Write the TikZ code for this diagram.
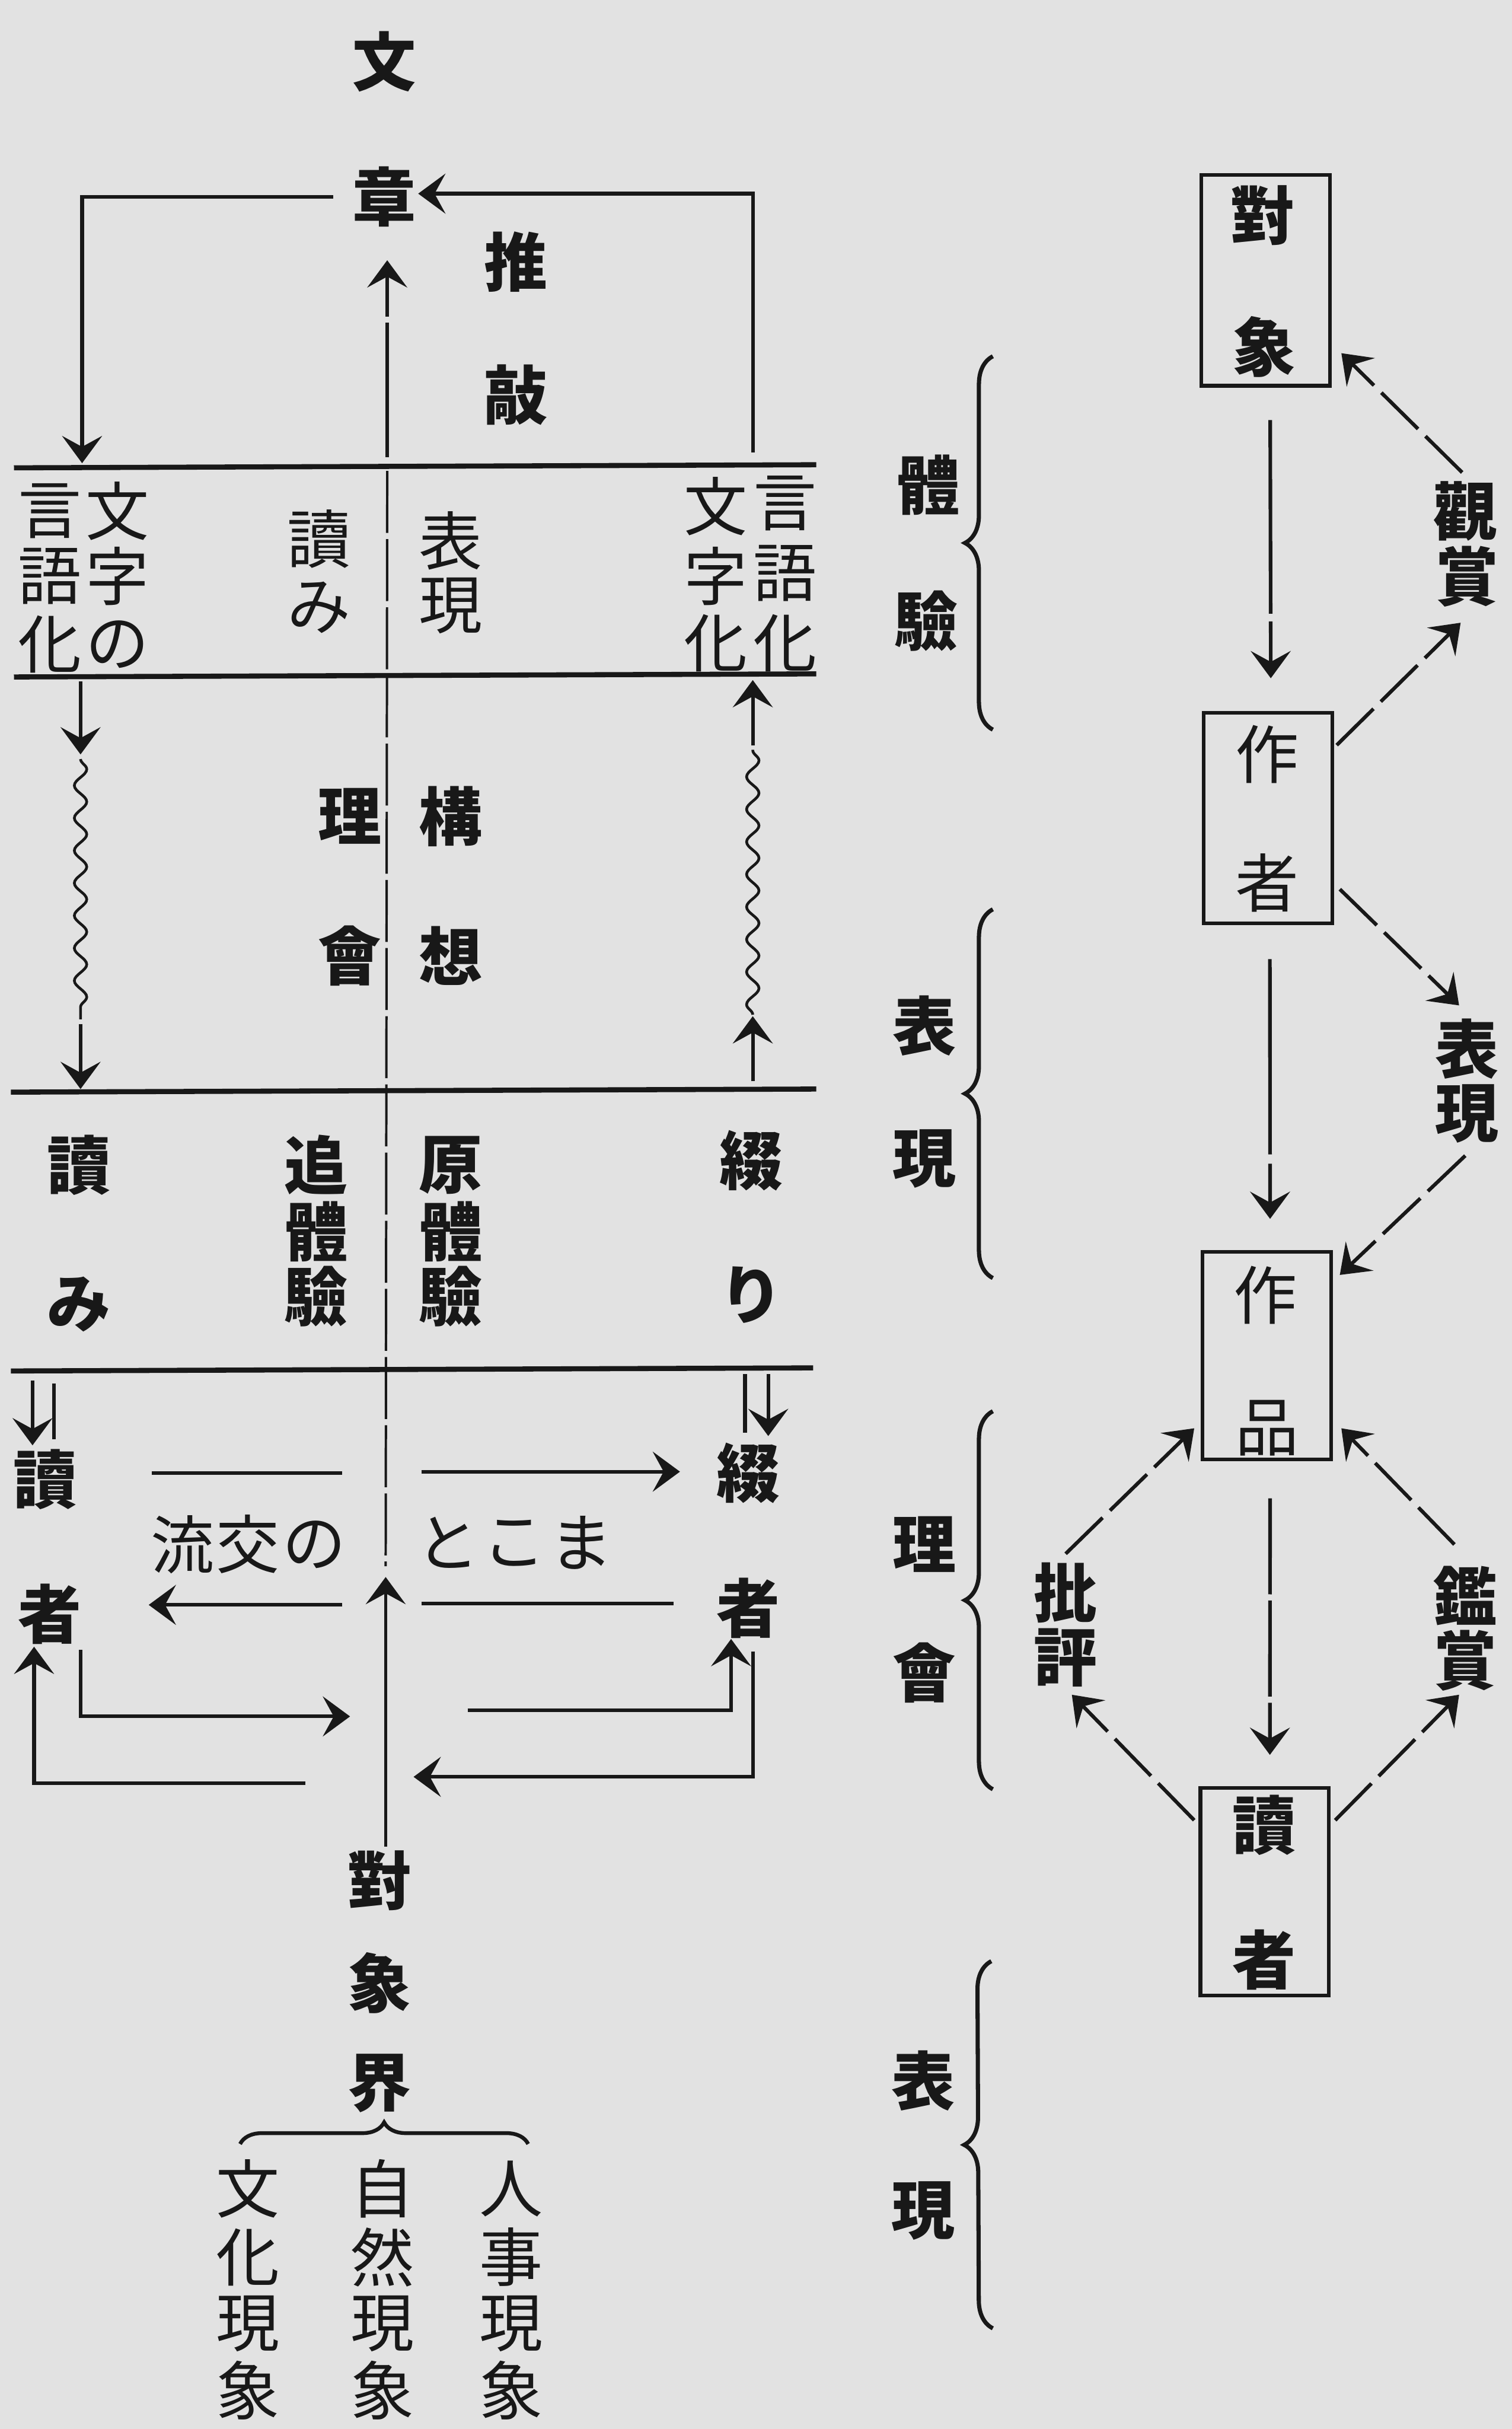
\documentclass[tikz,border=0pt]{standalone}
\usepackage{fontspec}
\newfontfamily\cjk{Noto Sans CJK JP}
\usetikzlibrary{arrows.meta,decorations.pathmorphing,decorations.pathreplacing}
\definecolor{paper}{RGB}{226,226,226}
\definecolor{ink}{RGB}{24,24,24}
\newcommand\kc[4]{\node[kc] (#1) at (#2,#3) {#4};}
\newcommand\kb[4]{\node[kcb] (#1) at (#2,#3) {#4};}
\begin{document}
\begin{tikzpicture}[x=0.03cm,y=-0.03cm,
  kc/.style={inner sep=0pt, font=\cjk\fontsize{35pt}{35pt}\selectfont, text=ink},
  kcb/.style={inner sep=0pt, font=\cjk\bfseries\fontsize{35pt}{35pt}\selectfont, text=ink},
  rule/.style={line width=2.8pt, draw=ink},
  ln/.style={line width=2pt, draw=ink},
  arr/.style={line width=2pt, draw=ink, -{Stealth[length=15pt,width=22pt,inset=6pt]}},
  cline/.style={line width=1.3pt, draw=ink, dash pattern=on 1.2cm off 0.12cm},
  wave/.style={line width=1.5pt, draw=ink, decorate, decoration={snake, segment length=0.63cm, amplitude=0.12cm}},
  dsh/.style={dash pattern=on 1.0cm off 0.2cm},
  box/.style={draw=ink, line width=2pt, inner sep=0pt, minimum width=2.49cm},
  brc/.style={draw=ink, line width=2.3pt, decorate, decoration={brace, amplitude=0.54cm}},
  hbrc/.style={draw=ink, line width=2.1pt, decorate, decoration={brace, amplitude=0.42cm}},
]
\fill[paper] (0,0) rectangle (976,1568);
\useasboundingbox (0,0) rectangle (976,1568);

% ---------------- left diagram: texts ----------------
\kb{wen}{248}{40}{文}
\kb{zhang}{248}{127}{章}
\kb{tui}{333}{169}{推}
\kb{qiao}{333}{255}{敲}

\kc{a1}{32}{330}{言} \kc{a2}{32}{372}{語} \kc{a3}{32}{416}{化}
\kc{b1}{76}{330}{文} \kc{b2}{76}{372}{字} \kc{b3}{76}{416}{の}
\kc{c1}{206}{348}{讀} \kc{c2}{206}{392}{み}
\kc{d1}{291}{349}{表} \kc{d2}{291}{391}{現}
\kc{e1}{462}{327}{文} \kc{e2}{462}{372}{字} \kc{e3}{462}{415}{化}
\kc{f1}{507}{325}{言} \kc{f2}{507}{370}{語} \kc{f3}{507}{415}{化}

\kb{g1}{226}{527}{理} \kb{g2}{226}{617}{會}
\kb{h1}{291}{527}{構} \kb{h2}{291}{617}{想}

\kb{i1}{51}{752}{讀} \kb{i2}{51}{842}{み}
\kb{j1}{204}{752}{追} \kb{j2}{204}{795}{體} \kb{j3}{204}{837}{驗}
\kb{k1}{291}{752}{原} \kb{k2}{291}{795}{體} \kb{k3}{291}{837}{驗}
\kb{l1}{485}{749}{綴} \kb{l2}{485}{836}{り}

\kb{rd1}{29}{955}{讀} \kb{rd2}{32}{1042}{者}
\kb{wr1}{483}{951}{綴} \kb{wr2}{483}{1038}{者}
\kc{m1}{118}{997}{流} \kc{m2}{160}{997}{交} \kc{m3}{203}{997}{の}
\kc{n1}{289}{996}{と} \kc{n2}{332}{996}{こ} \kc{n3}{375}{996}{ま}

\kb{o1}{245}{1214}{對} \kb{o2}{245}{1280}{象} \kb{o3}{245}{1345}{界}
\kc{p1}{160}{1413}{文} \kc{p2}{160}{1457}{化} \kc{p3}{160}{1500}{現} \kc{p4}{160}{1543}{象}
\kc{q1}{247}{1413}{自} \kc{q2}{247}{1457}{然} \kc{q3}{247}{1500}{現} \kc{q4}{247}{1543}{象}
\kc{r1}{330}{1413}{人} \kc{r2}{330}{1457}{事} \kc{r3}{330}{1500}{現} \kc{r4}{330}{1543}{象}

% ---------------- left diagram: rules ----------------
\coordinate (L1a) at (9,302);   \coordinate (L1b) at (527,300);
\coordinate (L2a) at (9,437);   \coordinate (L2b) at (527,435);
\coordinate (L3a) at (7,705);   \coordinate (L3b) at (527,703);
\coordinate (L4a) at (7,885);   \coordinate (L4b) at (525,883);
\draw[rule] (L1a) -- (L1b);
\draw[rule] (L2a) -- (L2b);
\draw[rule] (L3a) -- (L3b);
\draw[rule] (L4a) -- (L4b);

% centre line
\coordinate (C0) at (250,304); \coordinate (C1) at (249,1011);
\draw[cline] (C0) -- (C1);

% top loop
\coordinate (T1) at (215,127); \coordinate (T2) at (53,127); \coordinate (T3) at (53,299);
\draw[arr] (T1) -- (T2) -- (T3);
\coordinate (T4) at (486,292); \coordinate (T5) at (486,125); \coordinate (T6) at (270,125);
\draw[arr] (T4) -- (T5) -- (T6);
\coordinate (T7) at (250,295); \coordinate (T8) at (250,168);
\draw[arr, dash pattern=on 2.6cm off 0.12cm] (T7) -- (T8);

% zone 2 arrows and wavy lines
\coordinate (W1) at (52,440); \coordinate (W2) at (52,487);
\coordinate (W3) at (52,490); \coordinate (W4) at (52,658);
\coordinate (W5) at (52,661); \coordinate (W6) at (52,703);
\draw[arr] (W1) -- (W2);
\draw[wave] (W3) -- (W4);
\draw[arr] (W5) -- (W6);
\coordinate (V1) at (486,481); \coordinate (V2) at (486,439);
\coordinate (V3) at (486,655); \coordinate (V4) at (486,484);
\coordinate (V5) at (486,698); \coordinate (V6) at (486,656);
\draw[arr] (V1) -- (V2);
\draw[wave] (V3) -- (V4);
\draw[arr] (V5) -- (V6);

% zone 4
\coordinate (D1) at (21,891); \coordinate (D2) at (21,933);
\coordinate (D3) at (35,893); \coordinate (D4) at (35,929);
\draw[arr] (D1) -- (D2);
\draw[ln] (D3) -- (D4);
\coordinate (E1) at (481,887); \coordinate (E2) at (481,925);
\coordinate (E3) at (496,887); \coordinate (E4) at (496,927);
\draw[ln] (E1) -- (E2);
\draw[arr] (E3) -- (E4);

\coordinate (H1) at (98,951);  \coordinate (H2) at (221,951);
\coordinate (H3) at (272,950); \coordinate (H4) at (439,950);
\draw[ln] (H1) -- (H2);
\draw[arr] (H3) -- (H4);
\coordinate (H5) at (221,1036); \coordinate (H6) at (96,1036);
\coordinate (H7) at (272,1035); \coordinate (H8) at (435,1035);
\draw[arr] (H5) -- (H6);
\draw[ln] (H7) -- (H8);

\coordinate (P1) at (52,1065); \coordinate (P2) at (52,1108); \coordinate (P3) at (226,1108);
\draw[arr] (P1) -- (P2) -- (P3);
\coordinate (Q1) at (197,1151); \coordinate (Q2) at (22,1151); \coordinate (Q3) at (22,1063);
\draw[arr] (Q1) -- (Q2) -- (Q3);
\coordinate (R1) at (302,1104); \coordinate (R2) at (472,1104); \coordinate (R3) at (472,1058);
\draw[arr] (R1) -- (R2) -- (R3);
\coordinate (S1) at (486,1066); \coordinate (S2) at (486,1147); \coordinate (S3) at (267,1147);
\draw[arr] (S1) -- (S2) -- (S3);

\coordinate (U1) at (249,1192); \coordinate (U2) at (249,1018);
\draw[arr, line width=1.6pt] (U1) -- (U2);

% brace under 界
\coordinate (BR1) at (155,1384); \coordinate (BR2) at (341,1384);
\draw[hbrc] (BR1) -- (BR2);

% ---------------- right side: braces & labels ----------------
\kb{s1}{599}{313}{體} \kb{s2}{598}{401}{驗}
\kb{t1}{597}{662}{表} \kb{t2}{597}{748}{現}
\kb{u1}{597}{997}{理} \kb{u2}{597}{1080}{會}
\kb{v1}{596}{1343}{表} \kb{v2}{596}{1427}{現}

\coordinate (G1a) at (641,471);  \coordinate (G1b) at (641,230);
\coordinate (G2a) at (641,825);  \coordinate (G2b) at (641,587);
\coordinate (G3a) at (641,1155); \coordinate (G3b) at (641,911);
\coordinate (G4a) at (641,1503); \coordinate (G4b) at (640,1266);
\draw[brc] (G1a) -- (G1b);
\draw[brc] (G2a) -- (G2b);
\draw[brc] (G3a) -- (G3b);
\draw[brc] (G4a) -- (G4b);

% boxes
\node[box, minimum height=4.08cm] (B1) at (817,181) {};
\node[box, minimum height=4.08cm] (B2) at (818.5,528) {};
\node[box, minimum height=4.02cm] (B3) at (818,875) {};
\node[box, minimum height=4.02cm] (B4) at (816.5,1221) {};
\kb{x1}{815}{139}{對} \kb{x2}{816}{224}{象}
\kc{y1}{818}{487}{作} \kc{y2}{818}{570}{者}
\kc{z1}{817}{836}{作} \kc{z2}{818}{922}{品}
\kb{w1}{816}{1178}{讀} \kb{w2}{816}{1265}{者}

% outer labels
\kb{k1r}{946}{330}{觀} \kb{k2r}{947}{372}{賞}
\kb{h1r}{947}{677}{表} \kb{h2r}{947}{719}{現}
\kb{c1r}{688}{1028}{批} \kb{c2r}{688}{1070}{評}
\kb{j1r}{946}{1030}{鑑} \kb{j2r}{946}{1072}{賞}

% vertical arrows between boxes
\draw[arr, shorten <=0.63cm, shorten >=0.63cm, dash pattern=on 3.75cm off 0.15cm on 3cm off 0cm]
  ([xshift=0.09cm]B1.south) -- ([xshift=0.06cm]B2.north);
\draw[arr, shorten <=0.66cm, shorten >=0.6cm, dash pattern=on 3.78cm off 0.18cm on 3cm off 0cm]
  ([xshift=0.04cm]B2.south) -- ([xshift=0.06cm]B3.north);
\draw[arr, shorten <=0.72cm, shorten >=0.6cm, dash pattern=on 1.86cm off 0.12cm]
  ([xshift=0.06cm]B3.south) -- ([xshift=0.1cm]B4.north);

% diagonal dashed arrows
\coordinate (a1s) at (944,305);  \coordinate (a1e) at (866,228);
\coordinate (a2s) at (863,481);  \coordinate (a2e) at (943,402);
\coordinate (a3s) at (865,574);  \coordinate (a3e) at (942,649);
\coordinate (a4s) at (946,746);  \coordinate (a4e) at (865,823);
\coordinate (a5s) at (688,1003); \coordinate (a5e) at (771,922);
\coordinate (a6s) at (939,997);  \coordinate (a6e) at (866,922);
\coordinate (a7s) at (771,1175); \coordinate (a7e) at (692,1094);
\coordinate (a8s) at (862,1175); \coordinate (a8e) at (942,1094);
\draw[arr, dsh] (a1s) -- (a1e);
\draw[arr, dsh] (a2s) -- (a2e);
\draw[arr, dsh] (a3s) -- (a3e);
\draw[arr, dsh] (a4s) -- (a4e);
\draw[arr, dsh] (a5s) -- (a5e);
\draw[arr, dsh] (a6s) -- (a6e);
\draw[arr, dsh] (a7s) -- (a7e);
\draw[arr, dsh] (a8s) -- (a8e);
\end{tikzpicture}
\end{document}
